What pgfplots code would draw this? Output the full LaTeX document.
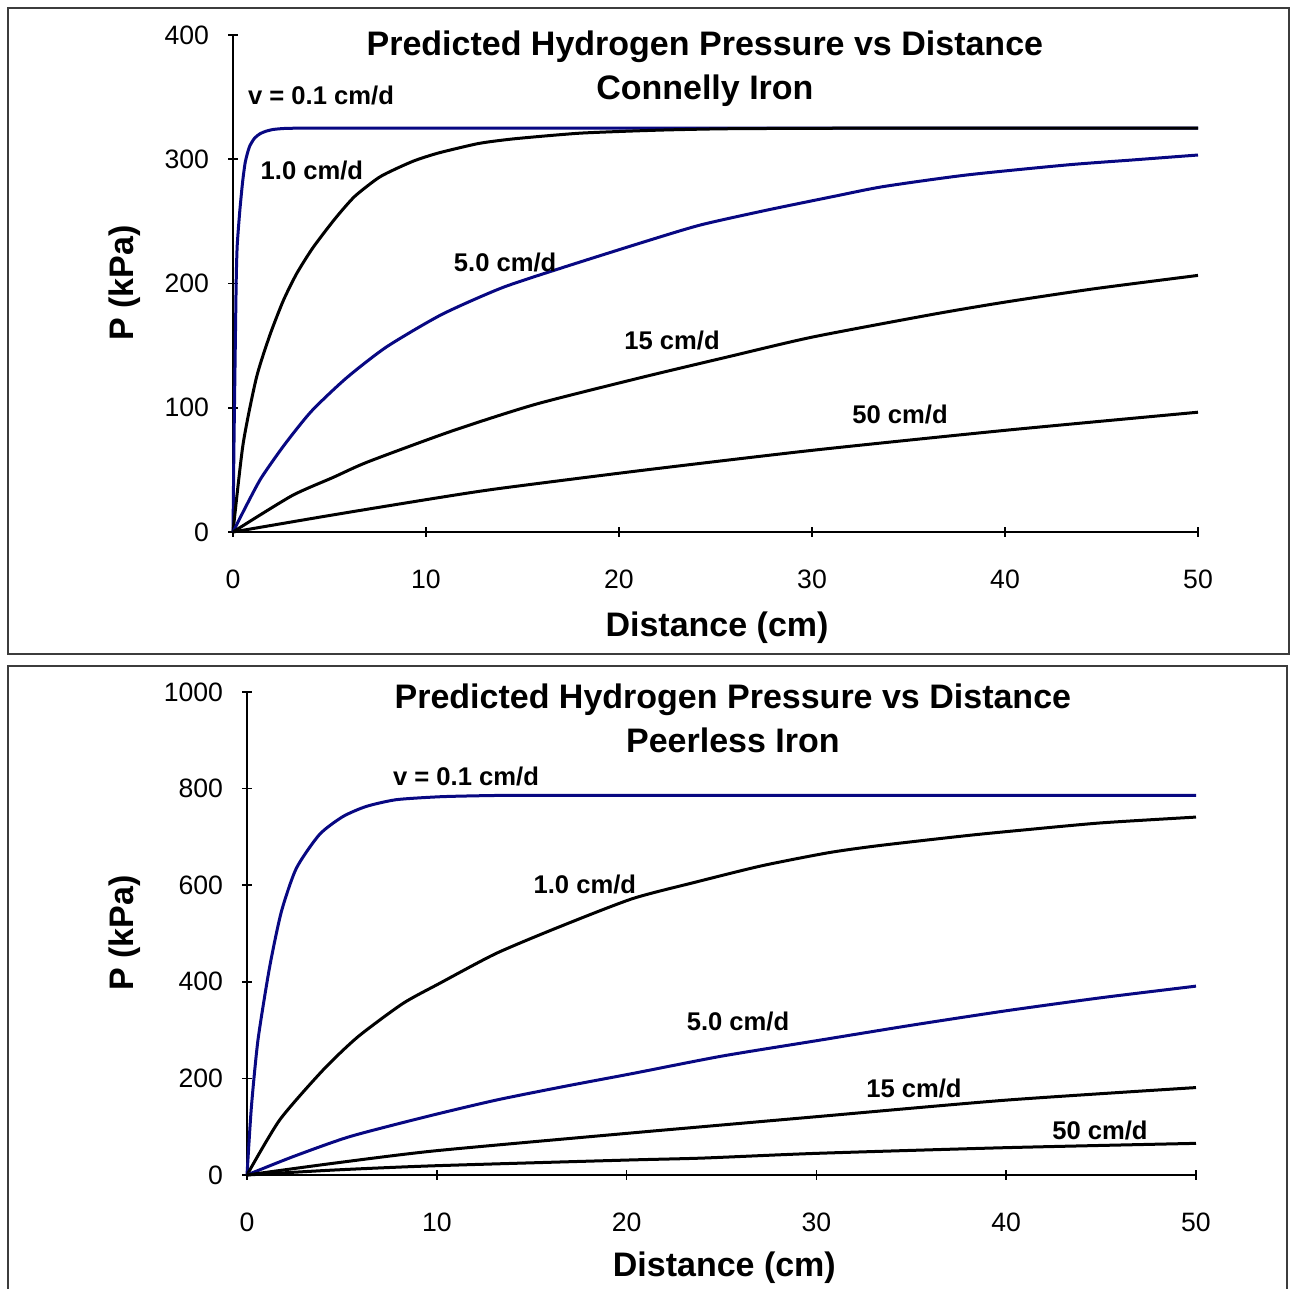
\documentclass[border=0pt]{standalone}
\usepackage{fontspec}
\setmainfont{Liberation Sans}
\usepackage{pgfplots}
\pgfplotsset{compat=1.18}
\definecolor{navyline}{RGB}{8,8,130}
\definecolor{framegray}{RGB}{60,60,60}

\tikzset{curvelabel/.style={font=\bfseries\fontsize{12.8}{15}\selectfont}}
\pgfplotsset{
  hpanel/.style={
    scale only axis,
    axis lines=left,
    axis line style={-, line width=1pt},
    tick align=center,
    major tick length=5pt,
    tick style={black, line width=0.8pt},
    xmin=0, xmax=50,
    xtick={0,10,...,50},
    ymin=0,
    clip=false,
    /pgf/number format/assume math mode=true,
    /pgf/number format/1000 sep={},
    tick label style={font=\fontsize{13.3}{16}\selectfont},
    xticklabel style={yshift=-13pt},
    yticklabel style={xshift=-6pt},
    label style={font=\bfseries\fontsize{17}{20}\selectfont},
    title style={font=\bfseries\fontsize{17}{22}\selectfont, align=center, anchor=center},
    every axis plot/.append style={line width=1.5pt, mark=none, smooth, tension=0.4},
  },
}

\begin{document}
\begin{tikzpicture}
\useasboundingbox (0,0) rectangle (645.5pt,644.5pt);
% panel frames
\draw[framegray, line width=0.75pt] (4pt,317.5pt) rectangle (644.5pt,640.5pt);
\draw[framegray, line width=0.75pt] (4pt,-2pt) rectangle (643.5pt,311.5pt);

% ---- Connelly iron ----
\begin{axis}[
    hpanel,
    at={(116.5pt,378.5pt)}, anchor=south west,
    width=482.5pt, height=248.5pt,
    ymax=400, ytick={0,100,...,400},
    xlabel={Distance (cm)}, ylabel={P (kPa)},
    xlabel style={at={(axis description cs:0.5016,-0.193)}, anchor=center},
    ylabel style={at={(axis description cs:-0.112,0.501)}, anchor=center},
    title={Predicted Hydrogen Pressure vs Distance\\Connelly Iron},
    title style={at={(axis description cs:0.489,0.907)}},
  ]
  % v = 0.1 cm/d
  \addplot[navyline] coordinates {
    (0,0) (0.05,70) (0.12,151) (0.17,205) (0.22,231) (0.35,258) (0.5,282)
    (0.64,298) (0.85,310) (1.12,317) (1.4,320.5) (1.7,322.5) (2.1,324)
    (2.7,324.8) (3.5,325) (5,325) (7,325) (10,325) (15,325) (20,325)
    (30,325) (40,325) (50,325)
  };
  % 1.0 cm/d
  \addplot[black] coordinates {
    (0,0) (0.52,70.5) (1.21,124) (1.9,158) (2.6,186) (3.3,208) (4.15,229)
    (5.28,252) (6.3,270) (7.53,285) (8.4,292) (9.43,299) (10.64,305)
    (12.7,312.6) (14.3,316) (16,318.5) (18,321) (20.3,322.5) (22.5,323.6)
    (25.4,324.5) (30,324.9) (35,325) (40,325) (45,325) (50,325)
  };
  % 5.0 cm/d
  \addplot[navyline] coordinates {
    (0,0) (0.7,21.5) (1.47,43.7) (2.68,70.5) (4.07,97.3) (5.88,124)
    (7.96,149) (10.81,175) (13.93,196.5) (17.04,212.6) (21.2,233)
    (24.2,247) (27.65,259) (31.1,270) (33.7,278) (38,287.3) (43.2,295.4)
    (46.6,299.4) (50,303.4)
  };
  % 15 cm/d
  \addplot[black] coordinates {
    (0,0) (3.03,29) (5.2,44) (7,56.5) (11.33,81.2) (15.66,102.7)
    (21.2,124.5) (25.6,140.8) (30,156.8) (36.2,175) (40,185) (44.6,195.7)
    (50,206.5)
  };
  % 50 cm/d
  \addplot[black] coordinates {
    (0,0) (5.2,13.8) (10.64,27.6) (13.8,35) (21.1,49.4) (30,65.7)
    (40,81.8) (50,96.4)
  };
  \node[curvelabel] at (axis cs:4.56,351.7) {v = 0.1 cm/d};
  \node[curvelabel] at (axis cs:4.09,291.3) {1.0 cm/d};
  \node[curvelabel] at (axis cs:14.1,217.3) {5.0 cm/d};
  \node[curvelabel] at (axis cs:22.75,154.5) {15 cm/d};
  \node[curvelabel] at (axis cs:34.56,94.2) {50 cm/d};
\end{axis}

% ---- Peerless iron ----
\begin{axis}[
    hpanel,
    at={(123.5pt,57pt)}, anchor=south west,
    width=474.5pt, height=241.5pt,
    ymax=1000, ytick={0,200,...,1000},
    xlabel={Distance (cm)}, ylabel={P (kPa)},
    xlabel style={at={(axis description cs:0.503,-0.192)}, anchor=center},
    ylabel style={at={(axis description cs:-0.1286,0.501)}, anchor=center},
    title={Predicted Hydrogen Pressure vs Distance\\Peerless Iron},
    title style={at={(axis description cs:0.512,0.921)}},
  ]
  % v = 0.1 cm/d
  \addplot[navyline] coordinates {
    (0,0) (0.23,140) (0.58,280) (1.19,430) (1.81,545) (2.6,635) (3.82,705)
    (5.05,742) (6.28,763) (7.86,777) (10.1,783) (12,785) (14,786)
    (20,786) (30,786) (40,786) (50,786)
  };
  % 1.0 cm/d
  \addplot[black] coordinates {
    (0,0) (1.72,113.8) (4.0,217) (5.84,286) (8.21,355) (10.14,396.6)
    (13.12,458.6) (16.46,513.8) (20.3,572) (23.6,606) (27.1,640)
    (30.6,667) (33.3,682) (38,703) (41.1,715) (45,729) (50,741)
  };
  % 5.0 cm/d
  \addplot[navyline] coordinates {
    (0,0) (2.42,37.9) (5.4,79.3) (9.44,120.7) (13.12,155) (16.8,184)
    (20.3,210) (25,246) (30,278) (35,310) (40,340) (45,367) (50,391)
  };
  % 15 cm/d
  \addplot[black] coordinates {
    (0,0) (4.5,24) (9.9,50) (20.1,86.5) (24,100) (30,120.7) (40,155)
    (50,181)
  };
  % 50 cm/d
  \addplot[black] coordinates {
    (0,0) (4.6,10.3) (9.8,19) (20.1,31) (24,35) (30,44.8) (40,56.6)
    (50,65.5)
  };
  \node[curvelabel] at (axis cs:11.54,826) {v = 0.1 cm/d};
  \node[curvelabel] at (axis cs:17.8,602) {1.0 cm/d};
  \node[curvelabel] at (axis cs:25.87,316.8) {5.0 cm/d};
  \node[curvelabel] at (axis cs:35.14,180) {15 cm/d};
  \node[curvelabel] at (axis cs:44.94,93) {50 cm/d};
\end{axis}
\end{tikzpicture}
\end{document}
